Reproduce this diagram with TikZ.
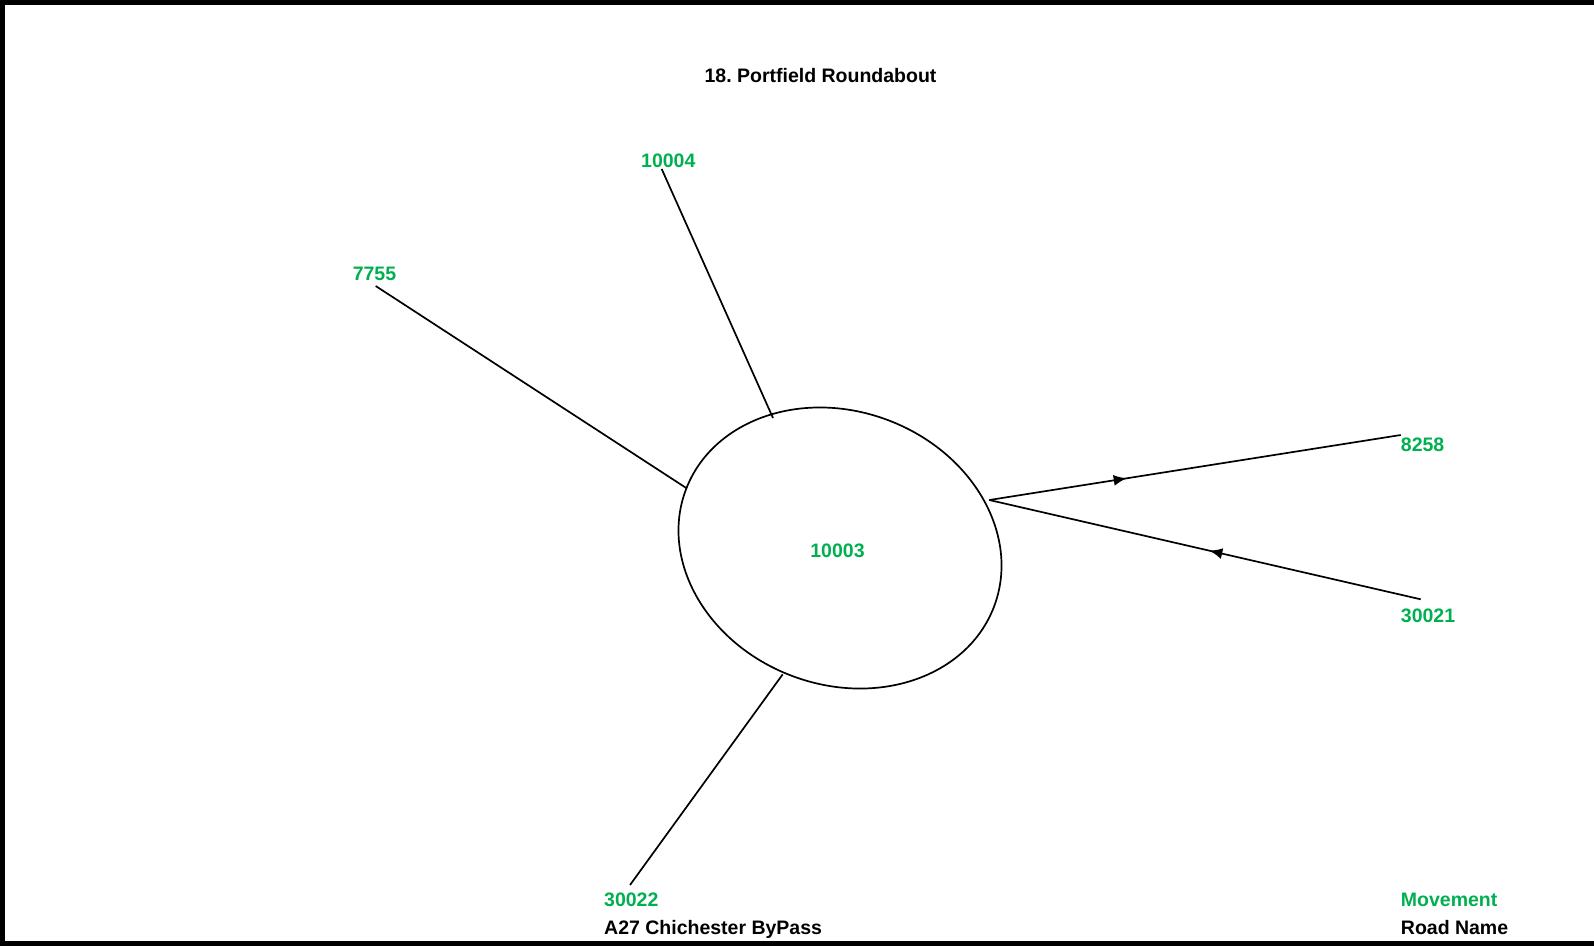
\documentclass[tikz,border=0pt]{standalone}
\usepackage{fontspec}
\setmainfont{Liberation Sans}
\usetikzlibrary{shapes.geometric,arrows.meta,decorations.markings}
\definecolor{movgreen}{RGB}{0,176,80}
\frenchspacing

\begin{document}
\begin{tikzpicture}[x=1pt,y=-1pt,
		lbl/.style={text=movgreen,font=\fontsize{19.5}{23}\selectfont\bfseries,inner sep=0pt},
		road/.style={font=\fontsize{19.5}{23}\selectfont\bfseries,inner sep=0pt},
		arm/.style={line width=1.7pt},
		midarrow/.style={postaction={decorate},decoration={markings,
				mark=at position #1 with {\arrow{Latex[length=13pt,width=11pt]}}}}]
		\useasboundingbox (0,0) rectangle (1594,946);
		
		% Frame (open on the right)
		\draw[line width=5pt] (1594,2.5) -- (2.5,2.5) -- (2.5,943.5) -- (1594,943.5);
		
		% Title
		\node[road,anchor=base] (title) at (820.5,82) {18. Portfield Roundabout};
		
		% The roundabout itself
		\node[draw,ellipse,arm,minimum width=329.6pt,minimum height=273.2pt,
			inner sep=0pt,rotate=-20.9] (rbt) at (840,548) {};
		\node[lbl,anchor=base] (n10003) at (837.5,557.3) {10003};
		
		% Movement labels
		\node[lbl,anchor=base] (n10004) at (668.3,167.3) {10004};
		\node[lbl,anchor=base] (n7755) at (374.5,280) {7755};
		\node[lbl,anchor=base west] (n8258) at (1400.7,451.7) {8258};
		\node[lbl,anchor=base west] (n30021) at (1400.7,622.3) {30021};
		\node[lbl,anchor=base west] (n30022) at (604,906.7) {30022};
		
		% Line ends
		\coordinate (j) at (989.3,500);
		\coordinate (a10004) at (661.7,169);
		\coordinate (b10004) at (773,418);
		\coordinate (a7755) at (375.7,286);
		\coordinate (b7755) at (686.7,488.3);
		\coordinate (a30022) at (630,885);
		\coordinate (b30022) at (782.7,674.3);
		\coordinate (a8258) at (1400.7,435);
		\coordinate (a30021) at (1420.7,599.3);
		
		% Arms
		\draw[arm] (a10004) -- (b10004);
		\draw[arm] (a7755) -- (b7755);
		\draw[arm] (a30022) -- (b30022);
		\draw[arm,midarrow=0.334] (j) -- (a8258);
		\draw[arm,midarrow=0.49] (a30021) -- (j);
		
		% Road name and key
		\node[road,anchor=base west] (roadname) at (604,934) {A27 Chichester ByPass};
		\node[lbl,anchor=base west] (keymov) at (1400.7,906.7) {Movement};
		\node[road,anchor=base west] (keyroad) at (1400.7,934) {Road Name};
		
\end{tikzpicture}
\end{document}
